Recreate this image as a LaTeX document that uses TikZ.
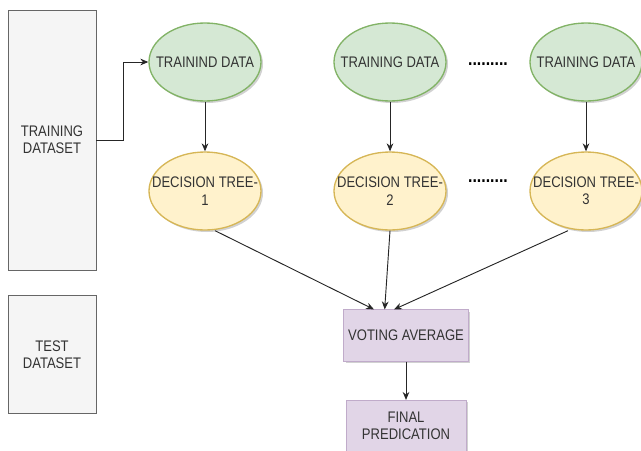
\documentclass[tikz,border=0pt]{standalone}
\usepackage{fontspec}
\setmainfont{Liberation Sans}[FakeStretch=0.85]
\usepackage{tikz}
\usetikzlibrary{arrows.meta,shapes.geometric,shadows}

\definecolor{datafill}{HTML}{D5E8D4}
\definecolor{dataline}{HTML}{82B366}
\definecolor{treefill}{HTML}{FFF2CC}
\definecolor{treeline}{HTML}{D6B656}
\definecolor{votefill}{HTML}{E1D5E7}
\definecolor{voteline}{HTML}{9673A6}
\definecolor{setfill}{HTML}{F5F5F5}
\definecolor{setline}{HTML}{666666}
\definecolor{txtgray}{HTML}{333333}

\tikzset{
  shade/.style={drop shadow={shadow xshift=1.5pt,shadow yshift=-1.5pt,opacity=0.18,fill=black}},
  dataset/.style={rectangle,draw=setline,fill=setfill,line width=0.7pt,minimum width=66pt,align=center,text=txtgray},
  sample/.style={ellipse,draw=dataline,fill=datafill,line width=1pt,minimum width=84pt,minimum height=58.5pt,inner xsep=-10pt,align=center,text=txtgray,shade},
  tree/.style={ellipse,draw=treeline,fill=treefill,line width=1pt,minimum width=84pt,minimum height=58.5pt,inner xsep=-10pt,align=center,text=txtgray,shade},
  result/.style={rectangle,draw=voteline!60,fill=votefill,line width=0.6pt,minimum width=90pt,minimum height=38.5pt,align=center,text=txtgray,shade},
  dots/.style={font=\fontsize{14}{14}\selectfont\bfseries},
  link/.style={draw=black!85,line width=0.7pt,-{Stealth[length=6pt,width=5pt]}}
}

\begin{document}
\begin{tikzpicture}[x=0.75pt,y=-0.75pt,font=\fontsize{11.5}{13}\selectfont]
\useasboundingbox (0,0) rectangle (641,450);

% data sets on the left
\node[dataset,minimum height=195pt] (train) at (52,140) {TRAINING\\DATASET};
\node[dataset,minimum height=88pt] (test) at (52,354.5) {TEST\\DATASET};

% bootstrap samples
\node[sample] (data1) at (205,62) {TRAININD DATA};
\node[sample] (data2) at (390,62) {TRAINING DATA};
\node[sample] (data3) at (586,62) {TRAINING DATA};
\node[dots] (ddots) at (488,64) {.........};

% trees
\node[tree] (tree1) at (205,191) {DECISION TREE-\\1};
\node[tree] (tree2) at (390,191) {DECISION TREE-\\2};
\node[tree] (tree3) at (586,191) {DECISION TREE-\\3};
\node[dots] (tdots) at (488,181) {.........};

% output
\node[result] (vote) at (406,335.5) {VOTING AVERAGE};
\node[result] (final) at (406,426) {FINAL\\PREDICATION};

\draw[link] (train.east) -- ++(27,0) |- (data1.west);
\draw[link] (data1) -- (tree1);
\draw[link] (data2) -- (tree2);
\draw[link] (data3) -- (tree3);
\draw[link] ([xshift=7.5pt]tree1.south) -- ([xshift=-24pt]vote.north);
\draw[link] (tree2.south) -- ([xshift=-16pt]vote.north);
\draw[link] ([xshift=-13.5pt]tree3.south) -- ([xshift=-9pt]vote.north);
\draw[link] (vote) -- (final);

\end{tikzpicture}
\end{document}
